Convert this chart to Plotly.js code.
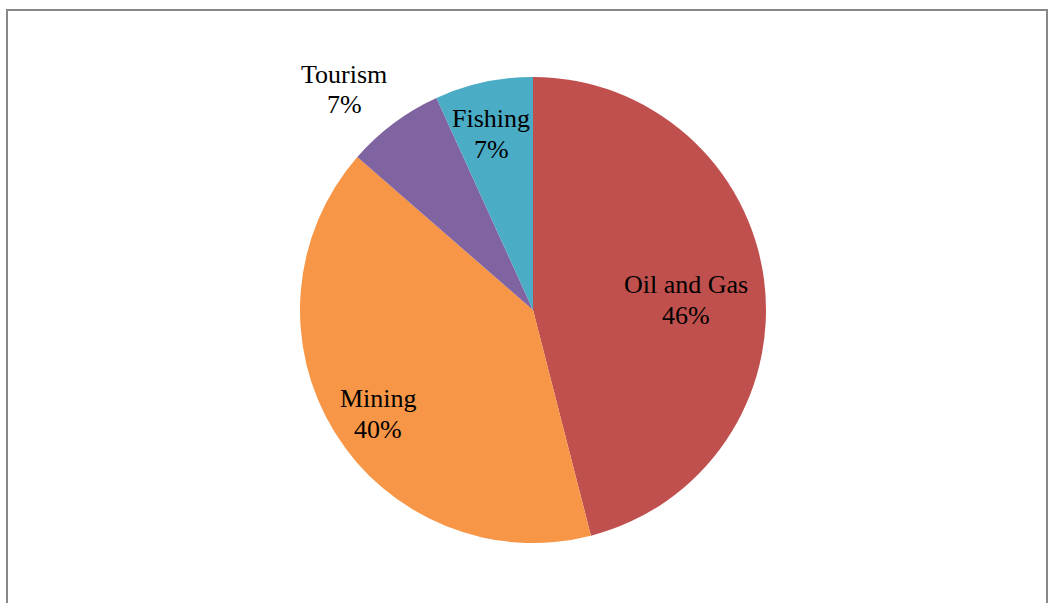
<!DOCTYPE html>
<html>
<head>
<meta charset="utf-8">
<script src="https://cdn.plot.ly/plotly-3.0.1.min.js"></script>
<style>
html,body{margin:0;padding:0;background:#fff;}
#chart{width:1048px;height:603px;}
</style>
</head>
<body>
<div id="chart"></div>
<script>
const categories = ["Oil and Gas", "Mining", "Tourism", "Fishing"];
const shares = [46.0, 40.4, 6.8, 6.8];
const colors = ["#C0504D", "#F79646", "#8064A2", "#4BACC6"];

const W = 1048, H = 603;
// label first-line centres in pixels; second line sits one line-step lower
const labelPos = [[686, 284], [378, 398], [344, 74], [491, 118]];
const lineStep = 31;

const total = shares.reduce((a, b) => a + b, 0);
const labelFont = {family: "'Liberation Serif', 'Times New Roman', serif", size: 26, color: "#000"};
const annotations = [];
categories.forEach((c, i) => {
  const pct = Math.round(shares[i] / total * 100) + "%";
  [c, pct].forEach((t, k) => {
    annotations.push({
      xref: "paper", yref: "paper",
      x: labelPos[i][0] / W, y: 1 - (labelPos[i][1] + k * lineStep) / H,
      xanchor: "center", yanchor: "middle",
      text: t, showarrow: false, align: "center",
      font: labelFont
    });
  });
});

const trace = {
  type: "pie",
  labels: categories,
  values: shares,
  sort: false,
  direction: "clockwise",
  rotation: 0,
  marker: {colors: colors, line: {width: 0}},
  textinfo: "none",
  hoverinfo: "label+percent",
  showlegend: false,
  domain: {x: [300 / W, 766 / W], y: [60 / H, 526 / H]}
};

const layout = {
  width: W, height: H,
  margin: {l: 0, r: 0, t: 0, b: 0},
  paper_bgcolor: "#fff",
  showlegend: false,
  font: {family: "'Liberation Serif', 'Times New Roman', serif"},
  annotations: annotations,
  shapes: [{
    type: "rect", xref: "paper", yref: "paper",
    x0: 7 / W, x1: 1047 / W, y0: 1 - 620 / H, y1: 1 - 10 / H,
    line: {color: "#878787", width: 2}, fillcolor: "rgba(0,0,0,0)"
  }]
};

Plotly.newPlot("chart", [trace], layout, {displayModeBar: false, staticPlot: true});
</script>
</body>
</html>
